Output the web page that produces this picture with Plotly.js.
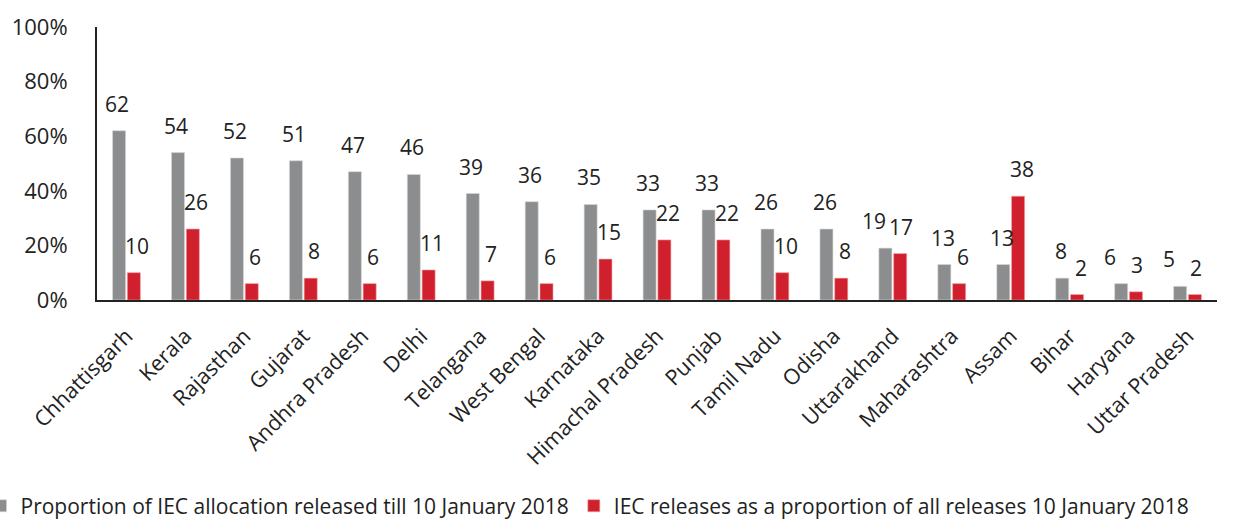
<!DOCTYPE html>
<html>
<head>
<meta charset="utf-8">
<script src="https://cdn.plot.ly/plotly-3.0.1.min.js"></script>
<style>html,body{margin:0;padding:0;background:#fff;}#chart{width:1244px;height:527px;}</style>
</head>
<body>
<div id="chart"></div>
<script>
const states = ["Chhattisgarh","Kerala","Rajasthan","Gujarat","Andhra Pradesh","Delhi","Telangana","West Bengal","Karnataka","Himachal Pradesh","Punjab","Tamil Nadu","Odisha","Uttarakhand","Maharashtra","Assam","Bihar","Haryana","Uttar Pradesh"];
const allocationReleased = [62,54,52,51,47,46,39,36,35,33,33,26,26,19,13,13,8,6,5];
const iecShare = [10,26,6,8,6,11,7,6,15,22,22,10,8,17,6,38,2,3,2];
const seriesNames = ["Proportion of IEC allocation released till 10 January 2018","IEC releases as a proportion of all releases 10 January 2018"];
const yTickValues = [0,20,40,60,80,100];
const yTickLabels = ["0%","20%","40%","60%","80%","100%"];

const GRAY = "#8c8d8f", RED = "#d0202d";
const FONT = "Open Sans, sans-serif";
const FS = 22;
const LFS = 21;

const traces = [
  {type:"bar", x:states, y:allocationReleased, name:seriesNames[0], marker:{color:GRAY, line:{color:"#d8d8d8", width:0.6}}, hoverinfo:"none"},
  {type:"bar", x:states, y:iecShare, name:seriesNames[1], marker:{color:RED, line:{color:"#f0a0a0", width:0.6}}, hoverinfo:"none"}
];

const annotations = [];
states.forEach((s,i)=>{
  const close = Math.abs(allocationReleased[i]-iecShare[i]) < 5;
  annotations.push({x:s, y:allocationReleased[i], xref:"x", yref:"y", text:String(allocationReleased[i]), showarrow:false, yanchor:"bottom", xshift: close ? -19 : -9, yshift:11, font:{family:FONT, size:LFS, color:"#222"}});
  annotations.push({x:s, y:iecShare[i], xref:"x", yref:"y", text:String(iecShare[i]), showarrow:false, yanchor:"bottom", xshift: close ? 8 : 11, yshift:11, font:{family:FONT, size:LFS, color:"#222"}});
});

const layout = {
  width:1244, height:527,
  margin:{l:97, r:27, t:27, b:227, autoexpand:false},
  paper_bgcolor:"#fff", plot_bgcolor:"#fff",
  barmode:"group", bargap:0.498, bargroupgap:0.12,
  font:{family:FONT, size:FS, color:"#222"},
  showlegend:true,
  legend:{orientation:"h", x:-0.104, xanchor:"left", y:-0.83, yanchor:"bottom", bgcolor:"rgba(0,0,0,0)", font:{family:FONT, size:21, color:"#222"}, itemwidth:30, tracegroupgap:0},
  xaxis:{type:"category", showline:true, linecolor:"#222", linewidth:2, ticks:"", tickangle:-45, tickfont:{family:FONT, size:21.5, color:"#222"}, showgrid:false, zeroline:false, ticklabelstandoff:13, automargin:false},
  yaxis:{range:[0,100], tickmode:"array", tickvals:yTickValues, ticktext:yTickLabels, showline:true, linecolor:"#222", linewidth:2, ticks:"", showgrid:false, zeroline:false, tickfont:{family:FONT, size:FS, color:"#222"}, ticklabelstandoff:23, automargin:false},
  annotations:annotations
};

Plotly.newPlot("chart", traces, layout, {displayModeBar:false, staticPlot:true});
</script>
</body>
</html>
